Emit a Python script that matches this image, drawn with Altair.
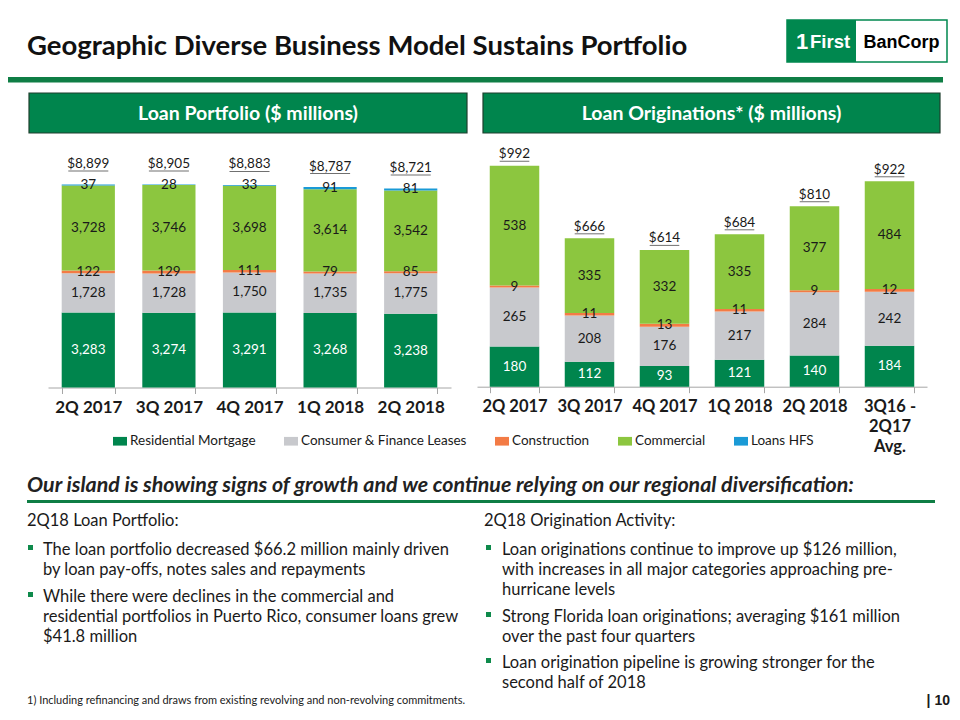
import altair as alt
import pandas as pd

# ---------------- data ----------------
series = ["Residential Mortgage", "Consumer & Finance Leases", "Construction", "Commercial", "Loans HFS"]
colors = ["#00854D", "#C8C9CD", "#F37B45", "#8CC63F", "#1A9AD6"]

port_q = ["2Q 2017", "3Q 2017", "4Q 2017", "1Q 2018", "2Q 2018"]
port_res = [3283, 3274, 3291, 3268, 3238]
port_con = [1728, 1728, 1750, 1735, 1775]
port_cst = [122, 129, 111, 79, 85]
port_com = [3728, 3746, 3698, 3614, 3542]
port_hfs = [37, 28, 33, 91, 81]
port_tot = ["$8,899", "$8,905", "$8,883", "$8,787", "$8,721"]

orig_q = ["2Q 2017", "3Q 2017", "4Q 2017", "1Q 2018", "2Q 2018", "3Q16 - 2Q17 Avg."]
orig_res = [180, 112, 93, 121, 140, 184]
orig_con = [265, 208, 176, 217, 284, 242]
orig_cst = [9, 11, 13, 11, 9, 12]
orig_com = [538, 335, 332, 335, 377, 484]
orig_tot = ["$992", "$666", "$614", "$684", "$810", "$922"]

FONT = "Lato"
LOGOFONT = "Liberation Sans"
INK = "#1a1a1a"
GREEN = "#00854D"
W, H = 944, 704


def long_df(qs, cols, names):
    rows = []
    for i, q in enumerate(qs):
        base = 0
        for k, (name, col) in enumerate(zip(names, cols)):
            v = col[i]
            rows.append(dict(q=q, s=name, k=k, v=v, y0=base, y1=base + v, mid=base + v / 2))
            base += v
    return pd.DataFrame(rows)


def tot_df(qs, cols, labels):
    rows = []
    for i, q in enumerate(qs):
        t = sum(c[i] for c in cols)
        lab = labels[i]
        ulw = 7.4 * sum(ch.isdigit() or ch == "$" for ch in lab) + 3.0 * lab.count(",")
        rows.append(dict(q=q, tot=t, lab=lab, ulw=ulw))
    return pd.DataFrame(rows)


pdf = long_df(port_q, [port_res, port_con, port_cst, port_com, port_hfs], series)
ptd = tot_df(port_q, [port_res, port_con, port_cst, port_com, port_hfs], port_tot)
odf = long_df(orig_q, [orig_res, orig_con, orig_cst, orig_com], series[:4])
otd = tot_df(orig_q, [orig_res, orig_con, orig_cst, orig_com], orig_tot)

cscale = alt.Scale(domain=series, range=colors)
legend = alt.Legend(
    orient="none", legendX=105, legendY=426, direction="horizontal", title=None,
    symbolType="M-1,-0.62H1V0.62H-1Z", symbolSize=196, symbolStrokeWidth=0,
    labelFont=FONT, labelFontSize=13.5, labelColor=INK, columnPadding=28,
    labelOffset=3, labelLimit=400, padding=0,
)


def panel(df, tdf, qs, xrange, ydom, yrange, base_y, dy_text, dy_ul, label_expr=None, lsize=17):
    axkw = dict(
        orient="bottom", offset=base_y - H, title=None, labelAngle=0, labelFont=FONT,
        labelFontSize=lsize, labelFontWeight="bold", labelColor=INK, labelPadding=6,
        domainColor="#A6A6A6", tickColor="#A6A6A6", tickSize=6, tickBand="extent",
        grid=False, labelLineHeight=20,
    )
    if label_expr:
        axkw["labelExpr"] = label_expr
    X = alt.X("q:N", sort=qs, scale=alt.Scale(domain=qs, range=xrange, paddingInner=0.34, paddingOuter=0.17),
              axis=alt.Axis(**axkw))
    ys = alt.Scale(domain=ydom, range=yrange, nice=False, zero=True)
    bars = alt.Chart(df).mark_bar().encode(
        x=X, y=alt.Y("y0:Q", scale=ys, axis=None), y2="y1:Q",
        color=alt.Color("s:N", scale=cscale, legend=legend), order="k:Q",
    )
    lab_w = alt.Chart(df).transform_filter(alt.datum.k == 0).mark_text(
        font=FONT, fontSize=13.5, color="white", baseline="middle"
    ).encode(x=X, y=alt.Y("mid:Q", scale=ys, axis=None), text=alt.Text("v:Q", format=","))
    lab_k = alt.Chart(df).transform_filter(alt.datum.k > 0).mark_text(
        font=FONT, fontSize=13.5, color=INK, baseline="middle"
    ).encode(x=X, y=alt.Y("mid:Q", scale=ys, axis=None), text=alt.Text("v:Q", format=","))
    tots = alt.Chart(tdf).mark_text(
        font=FONT, fontSize=13.5, color=INK, baseline="middle", yOffset=dy_text
    ).encode(x=X, y=alt.Y("tot:Q", scale=ys, axis=None), text="lab:N")
    ul = alt.Chart(tdf).mark_tick(orient="horizontal", thickness=1, color="#333333", yOffset=dy_ul).encode(
        x=X, y=alt.Y("tot:Q", scale=ys, axis=None), size=alt.Size("ulw:Q", scale=None)
    )
    return alt.layer(bars, lab_w, lab_k, tots, ul)


left = panel(pdf, ptd, port_q, [40, 443], [0, 10000], [379.5, 151.4], 379.5, -20.5, -13.5)
right = panel(odf, otd, orig_q, [469, 919], [0, 1000], [378.7, 155.9], 378.7, -11.5, -4.5,
              label_expr="datum.value == '3Q16 - 2Q17 Avg.' ? ['3Q16 -', '2Q17', 'Avg.'] : datum.label",
              lsize=16.5)

# ---------------- decorations ----------------
blank = pd.DataFrame({"a": [0]})


def rect(x1, x2, y1, y2, fill, stroke=None, sw=0):
    kw = dict(fill=fill)
    if stroke:
        kw.update(stroke=stroke, strokeWidth=sw)
    return alt.Chart(blank).mark_rect(**kw).encode(
        x=alt.value(x1), x2=alt.value(x2), y=alt.value(y1), y2=alt.value(y2))


def txt(x, y, text, size, weight="normal", color=INK, font=FONT, align="left", style="normal", lh=20):
    return alt.Chart(blank).mark_text(
        align=align, baseline="alphabetic", font=font, fontSize=size, fontWeight=weight,
        fontStyle=style, color=color, lineBreak="\n", lineHeight=lh,
    ).encode(x=alt.value(x), y=alt.value(y), text=alt.value(text))


def px(x):
    return x - 8


def bl(c, size):
    return c - 8 + 0.35 * size


BODY = 16.5
deco = [
    txt(px(27), 46.5, "Geographic Diverse Business Model Sustains Portfolio", 27.5, weight="bold", color="#111111"),
    rect(px(8), px(943), 69, 74.5, "#0F7E45"),
    # logo
    rect(px(787), px(947), 12, 54, "white", stroke="#00884F", sw=1.5),
    rect(px(787), px(856), 12, 54, "#00884F"),
    txt(794, 41, "1", 22, weight="bold", color="white", font=LOGOFONT, align="center"),
    txt(802, 40, "First", 18.5, weight="bold", color="white", font=LOGOFONT),
    txt(893.5, 40, "BanCorp", 18, weight="bold", color="#000000", font=LOGOFONT, align="center"),
    # section headers
    rect(px(29), px(467), 85, 125, GREEN, stroke="#1F3F2E", sw=1.2),
    rect(px(483), px(940), 85, 125, GREEN, stroke="#1F3F2E", sw=1.2),
    txt(240, bl(113, 19.5), "Loan Portfolio ($ millions)", 19.5, weight="bold", color="white", align="center"),
    txt(703.5, bl(113, 19.5), "Loan Originations* ($ millions)", 19.5, weight="bold", color="white", align="center"),
    # message
    txt(px(27), bl(485, 21.4), "Our island is showing signs of growth and we continue relying on our regional diversification:",
        21.4, weight="bold", style="italic", color="#222222"),
    rect(px(27), px(935), 492, 495, "#0F7E45"),
    # left column
    txt(px(27), bl(520, BODY), "2Q18 Loan Portfolio:", BODY),
    rect(px(28), px(33), 537, 542, "#0E8A4B"),
    txt(px(43), bl(549, BODY), "The loan portfolio decreased $66.2 million mainly driven\nby  loan pay-offs, notes sales and repayments", BODY),
    rect(px(28), px(33), 584, 589, "#0E8A4B"),
    txt(px(43), bl(596, BODY), "While there were declines in the commercial and\nresidential portfolios in Puerto Rico, consumer loans grew\n$41.8 million", BODY),
    # right column
    txt(px(484), bl(520, BODY), "2Q18 Origination Activity:", BODY),
    rect(px(486), px(491), 537, 542, "#0E8A4B"),
    txt(px(502), bl(549, BODY), "Loan originations continue to improve up $126 million,\nwith increases in all major categories approaching pre-\nhurricane levels", BODY),
    rect(px(486), px(491), 604, 609, "#0E8A4B"),
    txt(px(502), bl(616, BODY), "Strong Florida loan originations; averaging $161 million\nover the past four quarters", BODY),
    rect(px(486), px(491), 650, 655, "#0E8A4B"),
    txt(px(502), bl(662, BODY), "Loan origination pipeline is growing stronger for the\nsecond half of 2018", BODY),
    # footer
    txt(px(27), bl(700, 11), "1) Including refinancing and draws from existing revolving and non-revolving commitments.", 11),
    txt(px(950), bl(700, 14), "| 10", 14, weight="bold", font=LOGOFONT, align="right"),
]

chart = alt.layer(*deco, left, right).resolve_scale(x="independent", y="independent").properties(
    width=W, height=H, padding=0, autosize=alt.AutoSizeParams(type="none"), background="white",
).configure_view(stroke=None)

chart.save("out.html", embed_options={"renderer": "svg", "actions": False})
